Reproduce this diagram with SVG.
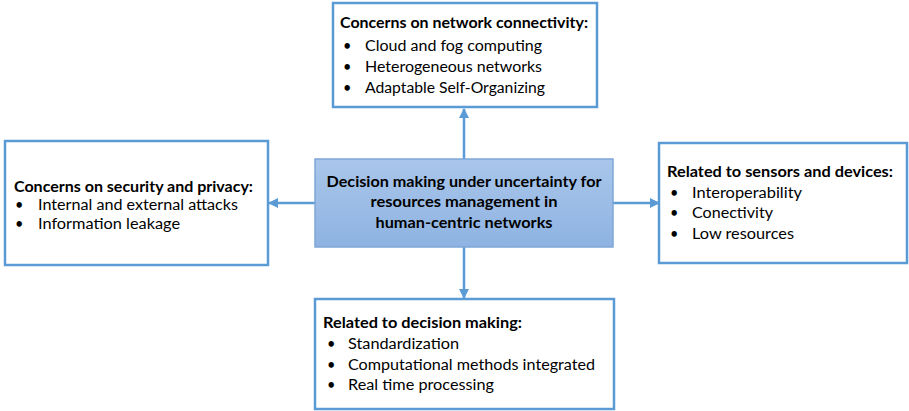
<svg xmlns="http://www.w3.org/2000/svg" width="909" height="411" viewBox="0 0 909 411">
<defs>
<linearGradient id="g" x1="0" y1="0" x2="0" y2="1">
<stop offset="0" stop-color="#a9c6ea"/>
<stop offset="1" stop-color="#8eb3e2"/>
</linearGradient>
<marker id="ah" viewBox="0 0 10 10" refX="9" refY="5" markerWidth="4" markerHeight="4" orient="auto" markerUnits="strokeWidth">
<path d="M0,0 L10,5 L0,10 z" fill="#5b9bd5"/>
</marker>
</defs>
<style>
.box{fill:#ffffff;stroke:#5b9bd5;stroke-width:2.5}
.ctr{fill:url(#g);stroke:#7fa7d8;stroke-width:1.5}
text{font-family:"Lato","Liberation Sans",sans-serif;font-size:14.5px;fill:#000}
.b{font-weight:bold}
.c{text-anchor:middle;font-weight:bold}
.con{stroke:#5b9bd5;stroke-width:2.5;fill:none}
</style>
<rect width="909" height="411" fill="#ffffff"/>
<g id="connectors">
<line class="con" x1="464" y1="159" x2="464" y2="109" marker-end="url(#ah)"/>
<line class="con" x1="315" y1="203" x2="269" y2="203" marker-end="url(#ah)"/>
<line class="con" x1="613" y1="203" x2="659" y2="203" marker-end="url(#ah)"/>
<line class="con" x1="464" y1="247" x2="464" y2="298" marker-end="url(#ah)"/>
</g>
<g id="top">
<rect class="box" x="333" y="3" width="264" height="104"/>
<text class="b" x="340" y="28" textLength="248" lengthAdjust="spacingAndGlyphs">Concerns on network connectivity:</text>
<text x="343" y="51">•</text><text x="365" y="51" textLength="177" lengthAdjust="spacingAndGlyphs">Cloud and fog computing</text>
<text x="343" y="72">•</text><text x="365" y="72" textLength="177" lengthAdjust="spacingAndGlyphs">Heterogeneous networks</text>
<text x="343" y="93">•</text><text x="365" y="93" textLength="180" lengthAdjust="spacingAndGlyphs">Adaptable Self-Organizing</text>
</g>
<g id="left">
<rect class="box" x="5" y="141" width="263" height="124"/>
<text class="b" x="14" y="192" textLength="239" lengthAdjust="spacingAndGlyphs">Concerns on security and privacy:</text>
<text x="15" y="210">•</text><text x="38" y="210" textLength="200" lengthAdjust="spacingAndGlyphs">Internal and external attacks</text>
<text x="15" y="229">•</text><text x="38" y="229" textLength="142" lengthAdjust="spacingAndGlyphs">Information leakage</text>
</g>
<g id="center">
<rect class="ctr" x="315" y="159" width="298" height="88"/>
<text class="c" x="464" y="187" textLength="275" lengthAdjust="spacingAndGlyphs">Decision making under uncertainty for</text>
<text class="c" x="464" y="207" textLength="187" lengthAdjust="spacingAndGlyphs">resources management in</text>
<text class="c" x="464" y="228" textLength="177" lengthAdjust="spacingAndGlyphs">human-centric networks</text>
</g>
<g id="right">
<rect class="box" x="659" y="143" width="248" height="120"/>
<text class="b" x="667" y="177" textLength="226" lengthAdjust="spacingAndGlyphs">Related to sensors and devices:</text>
<text x="670" y="198">•</text><text x="692" y="198" textLength="110" lengthAdjust="spacingAndGlyphs">Interoperability</text>
<text x="670" y="218">•</text><text x="692" y="218" textLength="81" lengthAdjust="spacingAndGlyphs">Conectivity</text>
<text x="670" y="239">•</text><text x="692" y="239" textLength="102" lengthAdjust="spacingAndGlyphs">Low resources</text>
</g>
<g id="bottom">
<rect class="box" x="315" y="299" width="299" height="110"/>
<text class="b" x="323" y="328" textLength="199" lengthAdjust="spacingAndGlyphs">Related to decision making:</text>
<text x="327" y="349">•</text><text x="348" y="349" textLength="111" lengthAdjust="spacingAndGlyphs">Standardization</text>
<text x="327" y="370">•</text><text x="348" y="370" textLength="247" lengthAdjust="spacingAndGlyphs">Computational methods integrated</text>
<text x="327" y="390">•</text><text x="348" y="390" textLength="146" lengthAdjust="spacingAndGlyphs">Real time processing</text>
</g>
</svg>
